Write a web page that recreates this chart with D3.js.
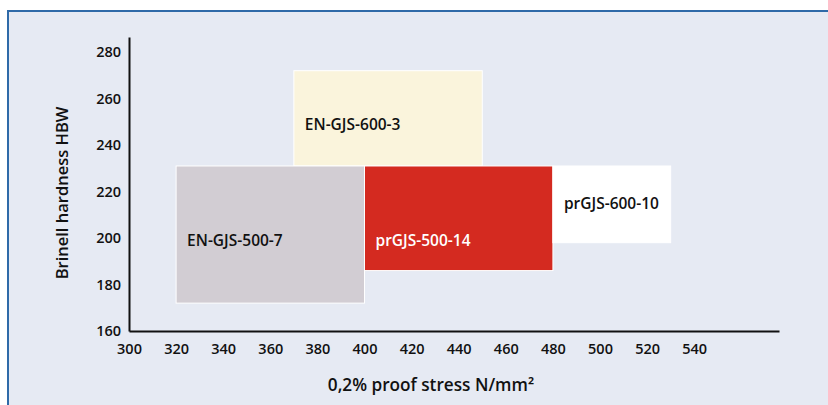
<!DOCTYPE html>
<html>
<head>
<meta charset="utf-8">
<script src="https://cdn.jsdelivr.net/npm/d3@7"></script>
<style>
  html, body { margin: 0; padding: 0; background: #ffffff; }
  svg { display: block; font-family: "Open Sans", "DejaVu Sans", sans-serif; }
</style>
</head>
<body>
<svg id="chart" width="828" height="405"></svg>
<script>
// ---- data ----
const grades      = ["EN-GJS-500-7", "EN-GJS-600-3", "prGJS-500-14", "prGJS-600-10"];
const stressMin   = [320, 370, 400, 480];   // 0,2% proof stress N/mm² (from)
const stressMax   = [400, 450, 480, 530];   // (to)
const hardMin     = [172, 231, 186, 198];   // Brinell hardness HBW (from)
const hardMax     = [231, 272, 231, 231];   // (to)
const labelHard   = [199, 249, 199, 215];   // hardness level at which each label sits
const fills       = ["#d2cdd3", "#faf4dc", "#d42a20", "#ffffff"];
const textColors  = ["#111111", "#111111", "#ffffff", "#111111"];
const xTicks      = [300, 320, 340, 360, 380, 400, 420, 440, 460, 480, 500, 520, 540];
const yTicks      = [160, 180, 200, 220, 240, 260, 280];
const xTitle      = "0,2% proof stress N/mm²";
const yTitle      = "Brinell hardness HBW";

const svg = d3.select("#chart");

// panel
svg.append("rect")
  .attr("x", 8).attr("y", 11).attr("width", 840).attr("height", 420)
  .attr("fill", "#e6eaf3").attr("stroke", "#2f6aa8").attr("stroke-width", 2);

const x = d3.scaleLinear().domain([300, 576]).range([129, 779]);
const y = d3.scaleLinear().domain([160, 286.5]).range([331, 37]);

const rects = grades.map((g, i) => ({
  g, x0: stressMin[i], x1: stressMax[i], y0: hardMin[i], y1: hardMax[i],
  ly: labelHard[i], fill: fills[i], tc: textColors[i]
}));

// draw order: cream behind, then others
const order = [1, 0, 2, 3];
svg.append("g").selectAll("rect")
  .data(order.map(i => rects[i]))
  .join("rect")
  .attr("x", d => x(d.x0))
  .attr("y", d => y(d.y1))
  .attr("width", d => x(d.x1) - x(d.x0))
  .attr("height", d => y(d.y0) - y(d.y1))
  .attr("fill", d => d.fill)
  .attr("stroke", "#ffffff")
  .attr("stroke-width", 1);

svg.append("g").selectAll("text")
  .data(rects)
  .join("text")
  .attr("x", d => x(d.x0) + 11)
  .attr("y", d => y(d.ly))
  .attr("dy", "0.35em")
  .attr("fill", d => d.tc)
  .attr("font-size", 15.5)
  .attr("font-weight", 600)
  .text(d => d.g);

// axes
const xAxis = svg.append("g")
  .attr("transform", `translate(0,${y(160)})`)
  .call(d3.axisBottom(x).tickValues(xTicks).tickSize(0).tickPadding(13).tickFormat(d3.format("d")));
const yAxis = svg.append("g")
  .attr("transform", `translate(${x(300)},0)`)
  .call(d3.axisLeft(y).tickValues(yTicks).tickSize(0).tickPadding(8).tickFormat(d3.format("d")));

[xAxis, yAxis].forEach(a => {
  a.select(".domain").attr("stroke", "#111").attr("stroke-width", 2);
  a.selectAll("text").attr("font-size", 14.5).attr("font-weight", 600)
    .attr("fill", "#111").attr("font-family", "\"Open Sans\", sans-serif");
});

svg.append("text")
  .attr("x", 431).attr("y", 385).attr("dy", "0.35em")
  .attr("text-anchor", "middle")
  .attr("font-size", 17.2).attr("font-weight", 600).attr("fill", "#111")
  .text(xTitle);

svg.append("text")
  .attr("transform", "translate(62,193) rotate(-90)")
  .attr("dy", "0.35em")
  .attr("text-anchor", "middle")
  .attr("font-size", 16.5).attr("font-weight", 600).attr("fill", "#111")
  .text(yTitle);
</script>
</body>
</html>
